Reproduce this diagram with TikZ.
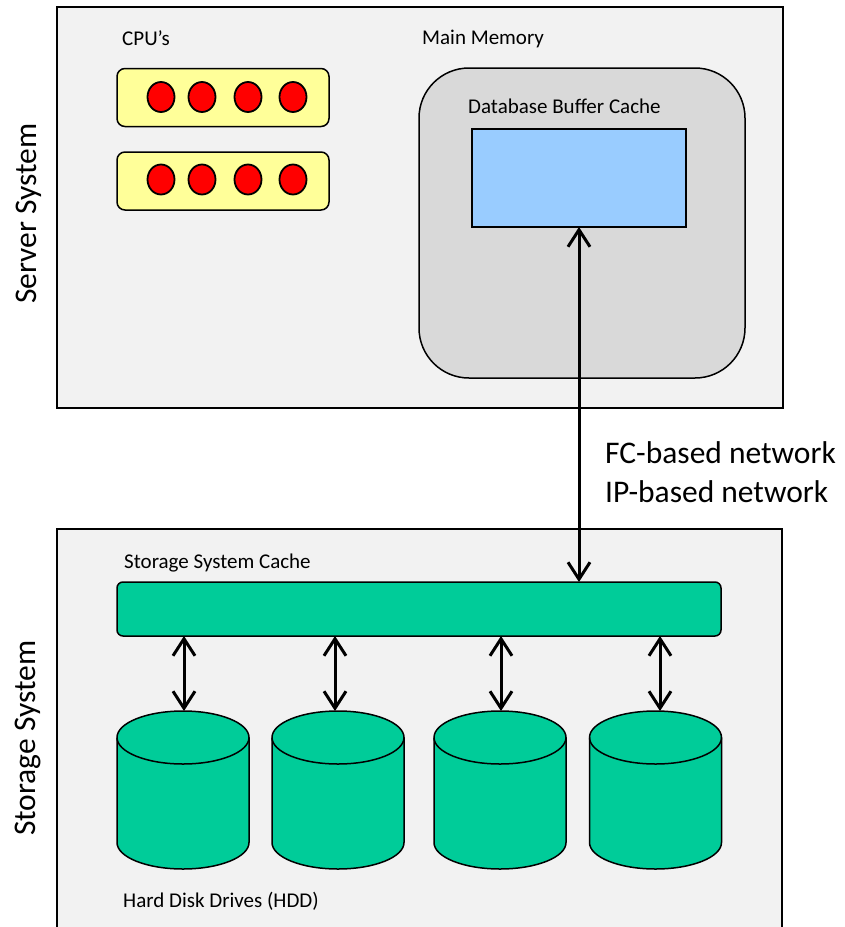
\documentclass[tikz,border=0pt]{standalone}
\usepackage{fontspec}
\setmainfont{Carlito}
\usetikzlibrary{arrows.meta,shapes.geometric}
\definecolor{sysbg}{HTML}{F2F2F2}
\definecolor{membg}{HTML}{D9D9D9}
\definecolor{bufbg}{HTML}{99CCFF}
\definecolor{cpubg}{HTML}{FFFF99}
\definecolor{corered}{HTML}{FF0000}
\definecolor{teal}{HTML}{00CC99}
\begin{document}
\begin{tikzpicture}[x=1pt,y=-1pt,
  sysbox/.style={draw=black, line width=1.6pt, fill=sysbg, inner sep=0pt, outer sep=0pt},
  cpubox/.style={draw=black, line width=1.5pt, fill=cpubg, rounded corners=8pt, inner sep=0pt, outer sep=0pt, minimum width=212pt, minimum height=58pt},
  core/.style={ellipse, draw=black, line width=1.8pt, fill=corered, inner sep=0pt, minimum width=27pt, minimum height=30pt},
  membox/.style={draw=black, line width=1.5pt, fill=membg, rounded corners=50pt, inner sep=0pt, outer sep=0pt},
  bufbox/.style={draw=black, line width=1.5pt, fill=bufbg, inner sep=0pt, outer sep=0pt},
  cachebox/.style={draw=black, line width=1.5pt, fill=teal, rounded corners=6pt, inner sep=0pt, outer sep=0pt},
  lbl/.style={anchor=base west, inner sep=0pt, font=\fontsize{21}{25}\selectfont},
  big/.style={anchor=base west, inner sep=0pt, font=\fontsize{31.5}{38}\selectfont},
  netarrow/.style={line width=3pt, {Straight Barb[length=17pt,width=22pt]}-{Straight Barb[length=17pt,width=22pt]}},
  diskarrow/.style={line width=3pt, {Straight Barb[length=17pt,width=22pt]}-{Straight Barb[length=17pt,width=22pt]}},
  hdd/.pic={
    \path[fill=teal, draw=black, line width=1.5pt]
      (-66,0) -- (-66,105) arc[start angle=180, end angle=360, x radius=66pt, y radius=26.5pt]
      -- (66,0) arc[start angle=0, end angle=180, x radius=66pt, y radius=26.5pt] -- cycle;
    \draw[line width=1.5pt] (-66,0) arc[start angle=180, end angle=360, x radius=66pt, y radius=26.5pt];
  }
]
\path[use as bounding box] (0,0) rectangle (844,927);
\clip (0,0) rectangle (844,927);

% Server system
\node[sysbox, minimum width=726pt, minimum height=401pt] (server) at (420,207.5) {};
\node[big, rotate=90] (serverlbl) at (36,304) {Server System};
\node[lbl] (cpulbl) at (122,45) {CPU’s};
\node[cpubox] (cpu1) at (223,97.5) {};
\node[cpubox] (cpu2) at (223,181) {};
\foreach \x [count=\i] in {161,202,248,293} {
  \node[core] (c1\i) at (\x,97) {};
  \node[core] (c2\i) at (\x,179.5) {};
}
\node[lbl] (memlbl) at (422,44.5) {Main Memory};
\node[membox, minimum width=326pt, minimum height=310pt] (mem) at (582,223) {};
\node[lbl] (buflbl) at (468,113) {Database Buffer Cache};
\node[bufbox, minimum width=214pt, minimum height=98pt] (buf) at (579,178) {};

% Storage system
\node[sysbox, minimum width=725pt, minimum height=420pt] (storage) at (419.5,739) {};
\node[big, rotate=90] (storagelbl) at (35,836) {Storage System};
\node[lbl] (cachelbl) at (124,568) {Storage System Cache};
\node[cachebox, minimum width=604pt, minimum height=54pt] (cache) at (419,609) {};
\node[lbl] (hddlbl) at (123,907) {Hard Disk Drives (HDD)};

\pic (hdd1) at (183,737.5) {hdd};
\pic (hdd2) at (338,737.5) {hdd};
\pic (hdd3) at (500,737.5) {hdd};
\pic (hdd4) at (655.5,737.5) {hdd};
\coordinate (d1) at (184,711);
\coordinate (d2) at (335,711);
\coordinate (d3) at (501,711);
\coordinate (d4) at (660,711);
\foreach \i in {1,...,4} {
  \draw[diskarrow] (cache.south -| d\i) -- (d\i);
}

% Network
\draw[netarrow] (buf.south) -- (buf.south |- cache.north);
\node[big] (fc) at (605,463) {FC-based network};
\node[big] (ip) at (605,502) {IP-based network};
\end{tikzpicture}
\end{document}
